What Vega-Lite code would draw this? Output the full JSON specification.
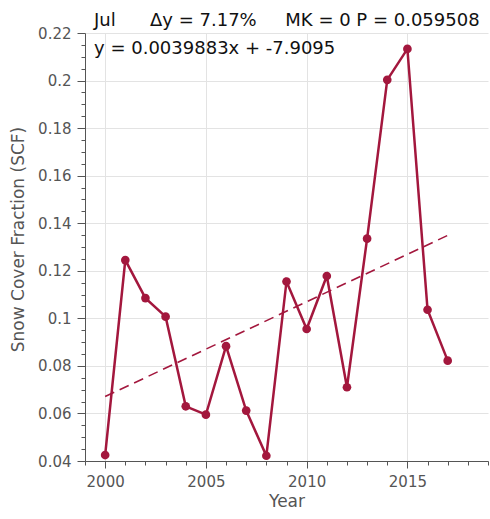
{
  "$schema": "https://vega.github.io/schema/vega-lite/v6.json",
  "width": 403,
  "height": 428,
  "padding": {"left": 85, "top": 33, "right": 2, "bottom": 58},
  "autosize": {"type": "none"},
  "config": {
    "view": {"stroke": null},
    "font": "DejaVu Sans",
    "axis": {
      "labelFont": "DejaVu Sans",
      "titleFont": "DejaVu Sans",
      "labelColor": "#555555",
      "titleColor": "#555555",
      "domainColor": "#555555",
      "tickColor": "#555555",
      "gridColor": "#e3e3e3",
      "labelFontSize": 15,
      "titleFontSize": 17,
      "titleFontWeight": "normal"
    }
  },
  "title": {
    "text": "Jul\u00a0\u00a0\u00a0\u00a0\u00a0\u00a0Δy = 7.17%\u00a0\u00a0\u00a0\u00a0\u00a0MK = 0 P = 0.059508",
    "anchor": "start",
    "frame": "group",
    "dx": 9,
    "offset": -4,
    "fontSize": 18,
    "fontWeight": "normal",
    "font": "DejaVu Sans",
    "color": "#111111"
  },
  "datasets": {
    "scf": [
      {"year": 2000, "scf": 0.0425},
      {"year": 2001, "scf": 0.1245},
      {"year": 2002, "scf": 0.1085},
      {"year": 2003, "scf": 0.1007},
      {"year": 2004, "scf": 0.0630},
      {"year": 2005, "scf": 0.0595},
      {"year": 2006, "scf": 0.0883},
      {"year": 2007, "scf": 0.0612},
      {"year": 2008, "scf": 0.0422},
      {"year": 2009, "scf": 0.1155},
      {"year": 2010, "scf": 0.0955},
      {"year": 2011, "scf": 0.1178},
      {"year": 2012, "scf": 0.0710},
      {"year": 2013, "scf": 0.1335},
      {"year": 2014, "scf": 0.2003},
      {"year": 2015, "scf": 0.2133},
      {"year": 2016, "scf": 0.1036},
      {"year": 2017, "scf": 0.0822}
    ],
    "trend": [
      {"year": 2000, "scf": 0.0671},
      {"year": 2017, "scf": 0.1349}
    ],
    "eq": [
      {"year": 1999.45, "scf": 0.2132, "label": "y = 0.0039883x + -7.9095"}
    ]
  },
  "encoding": {
    "x": {
      "field": "year",
      "type": "quantitative",
      "scale": {"domain": [1999, 2019], "nice": false, "zero": false},
      "axis": {
        "title": "Year",
        "values": [1999,2000,2001,2002,2003,2004,2005,2006,2007,2008,2009,2010,2011,2012,2013,2014,2015,2016,2017,2018,2019],
        "format": "d",
        "labelExpr": "datum.value % 5 == 0 ? datum.label : ''",
        "labelOverlap": false,
        "labelFlush": false,
        "labelPadding": 6,
        "titlePadding": 4,
        "tickSize": {"condition": {"test": "datum.value % 5 == 0", "value": 7}, "value": 4},
        "gridOpacity": {"condition": {"test": "datum.value % 5 == 0", "value": 1}, "value": 0}
      }
    },
    "y": {
      "field": "scf",
      "type": "quantitative",
      "scale": {"domain": [0.04, 0.22], "nice": false, "zero": false},
      "axis": {
        "title": "Snow Cover Fraction (SCF)",
        "titleY": 206,
        "values": [0.04,0.045,0.05,0.055,0.06,0.065,0.07,0.075,0.08,0.085,0.09,0.095,0.1,0.105,0.11,0.115,0.12,0.125,0.13,0.135,0.14,0.145,0.15,0.155,0.16,0.165,0.17,0.175,0.18,0.185,0.19,0.195,0.2,0.205,0.21,0.215,0.22],
        "format": "~g",
        "labelExpr": "abs(round(datum.value*50) - datum.value*50) < 0.01 ? datum.label : ''",
        "labelOverlap": false,
        "labelFlush": false,
        "labelPadding": 6,
        "titlePadding": 10,
        "tickSize": {"condition": {"test": "abs(round(datum.value*50) - datum.value*50) < 0.01", "value": 8}, "value": 4},
        "gridOpacity": {"condition": {"test": "abs(round(datum.value*50) - datum.value*50) < 0.01", "value": 1}, "value": 0}
      }
    }
  },
  "layer": [
    {
      "data": {"name": "trend"},
      "mark": {"type": "line", "color": "#a3173d", "strokeWidth": 1.6, "strokeDash": [10, 6]}
    },
    {
      "data": {"name": "scf"},
      "mark": {"type": "line", "color": "#a3173d", "strokeWidth": 2.5, "point": {"filled": true, "size": 75, "color": "#a3173d", "opacity": 1}}
    },
    {
      "data": {"name": "eq"},
      "mark": {"type": "text", "align": "left", "baseline": "middle", "fontSize": 18, "font": "DejaVu Sans", "color": "#111111"},
      "encoding": {"text": {"field": "label"}}
    }
  ]
}
